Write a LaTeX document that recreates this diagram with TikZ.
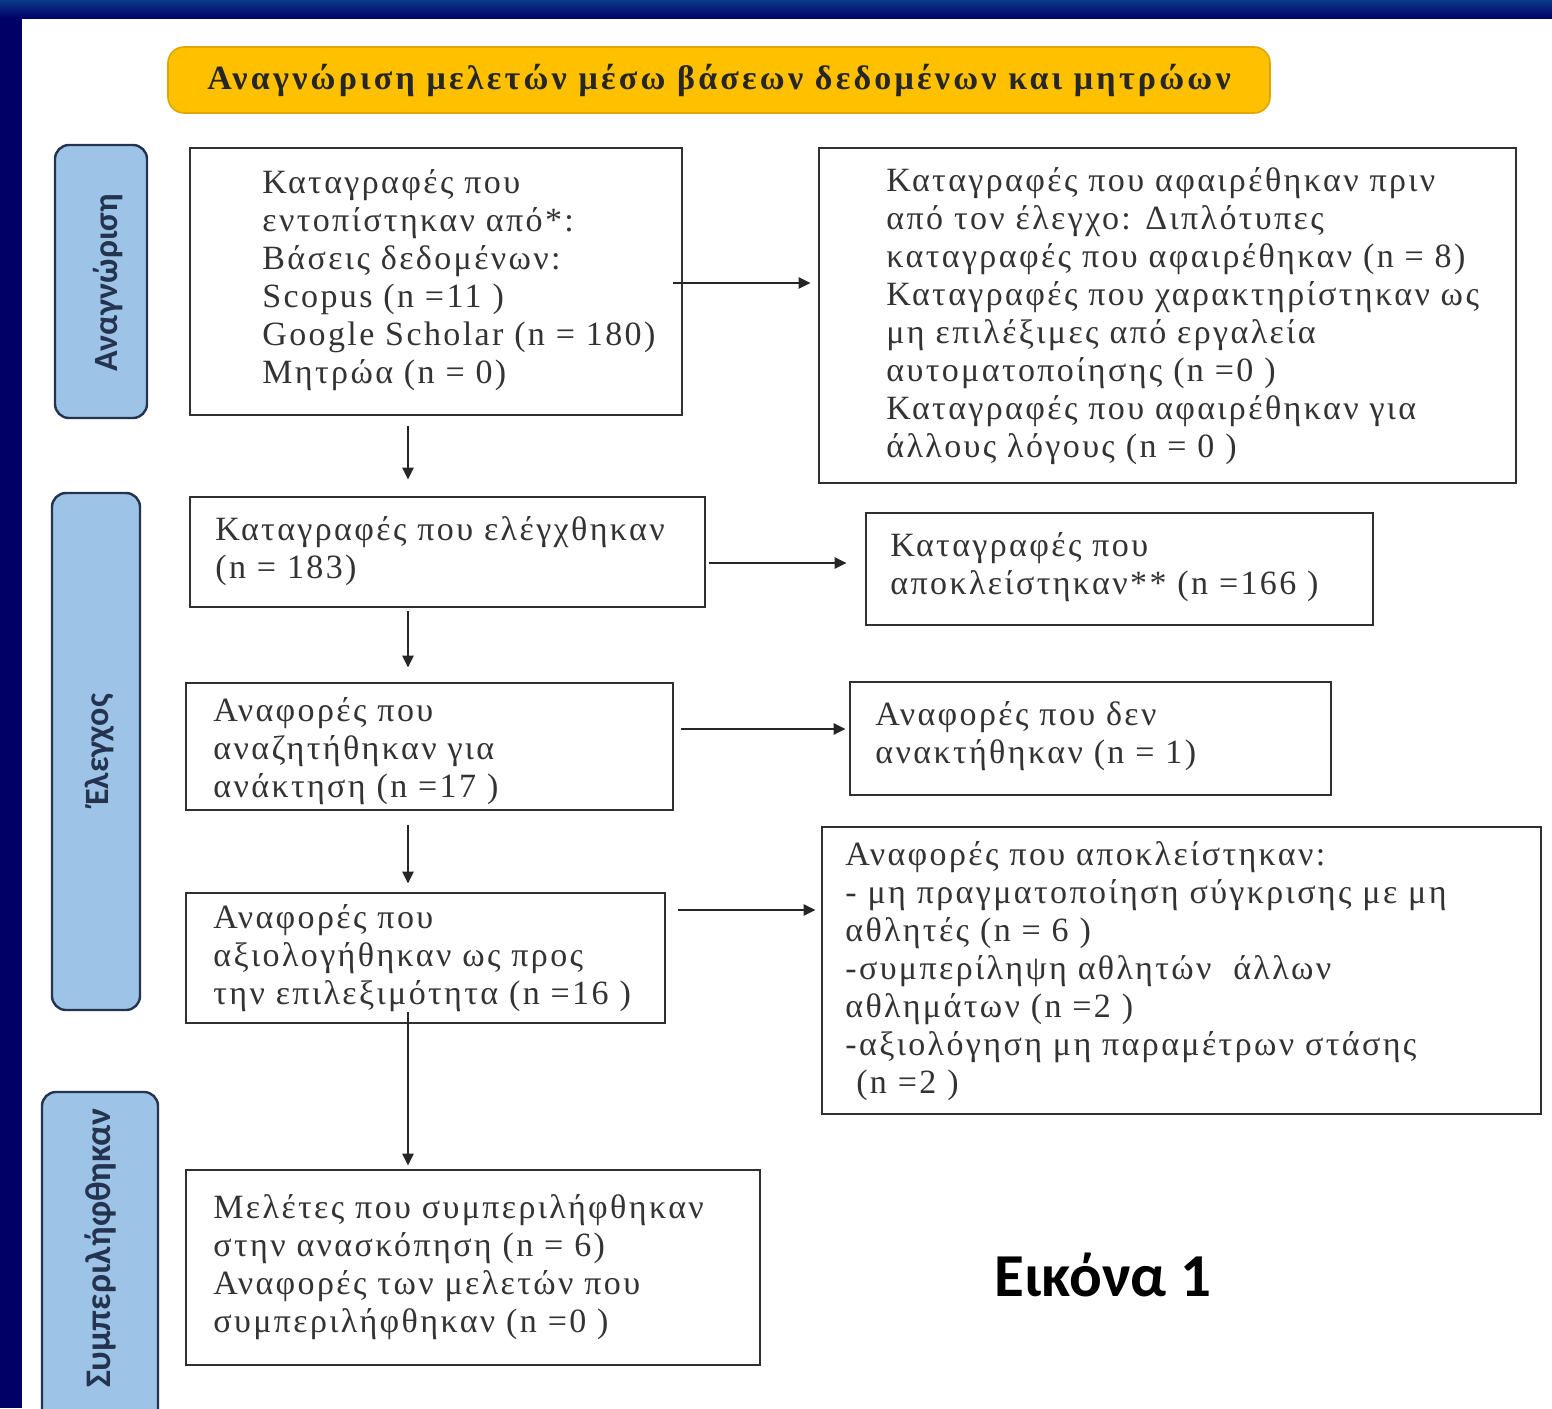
\documentclass[tikz,border=0pt]{standalone}
\usepackage{fontspec}
\setmainfont{Liberation Serif}
\newfontfamily\calib{Carlito}
\newfontfamily\widetxt[LetterSpace=7]{Liberation Serif}
\newfontfamily\widetitle[LetterSpace=9.5]{Liberation Serif}
\usetikzlibrary{arrows.meta}
\definecolor{navy}{HTML}{000066}
\definecolor{navytop}{HTML}{0B3A8C}
\definecolor{lblue}{HTML}{9DC3E6}
\definecolor{lbord}{HTML}{243350}
\definecolor{gold}{HTML}{FFC000}
\definecolor{goldline}{HTML}{E3A500}
\definecolor{boxline}{HTML}{303030}
\definecolor{txtc}{HTML}{333333}
\tikzset{
 boxst/.style={draw=boxline, line width=1.4pt, fill=white, inner sep=0pt},
 side/.style={draw=lbord, fill=lblue, line width=1.2pt, rounded corners=7pt, inner sep=0pt},
 txt/.style={anchor=north west, inner sep=0pt, align=left, text=txtc, font=\widetxt\fontsize{17pt}{19pt}\selectfont},
 arr/.style={draw=black!85, line width=1.2pt, -{Triangle[length=6pt,width=5.5pt]}},
 sidetxt/.style={rotate=90, font=\calib\bfseries\fontsize{17pt}{20pt}\selectfont, text=lbord},
 titlest/.style={draw=goldline, fill=gold, line width=0.8pt, rounded corners=8pt, inner sep=0pt,
   font=\widetitle\bfseries\fontsize{17pt}{19pt}\selectfont, text=black!85}
}
\newcommand\pbox[6][boxst]{\node[#1, minimum width={(#5-#3)*0.5pt}, minimum height={(#6-#4)*0.5pt}] (#2) at ({(#3+#5)/2},{(#4+#6)/2}) {};}
\begin{document}
\begin{tikzpicture}[x=0.5pt,y=-0.5pt]
\clip (0,0) rectangle (1552,1408);
\fill[white] (0,0) rectangle (1552,1408);
\fill[navy] (0,0) rectangle (22,1408);
\shade[top color=navytop, bottom color=navy] (0,0) rectangle (1552,18);

% title
\node[titlest, minimum width={(1272-170)*0.5pt}, minimum height={(113-47)*0.5pt}] (title) at (719,80)
  {Αναγνώριση μελετών μέσω βάσεων δεδομένων και μητρώων};

% side labels
\pbox[side]{s1}{55}{145}{147}{418}
\pbox[side]{s2}{52}{493}{140}{1010}
\pbox[side]{s3}{42}{1092}{158}{1430}
\node[sidetxt] (s1t) at (108,283) {Αναγνώριση};
\node[sidetxt] (s2t) at (100,750) {Έλεγχος};
\node[sidetxt, font=\calib\bfseries\fontsize{18pt}{20pt}\selectfont] (s3t) at (100,1248) {Συμπεριλήφθηκαν};

% boxes
\pbox{A}{190}{148}{682}{415}
\pbox{B}{819}{148}{1516}{483}
\pbox{C}{190}{497}{705}{607}
\pbox{D}{866}{513}{1373}{625}
\pbox{E}{186}{683}{673}{810}
\pbox{F}{850}{682}{1331}{795}
\pbox{G}{186}{893}{665}{1023}
\pbox{H}{822}{827}{1541}{1114}
\pbox{I}{186}{1170}{760}{1365}

% texts
\node[txt] (tA) at (262,166) {\strut Καταγραφές που\\εντοπίστηκαν από*:\\Βάσεις δεδομένων:\\Scopus (n =11 )\\Google Scholar (n = 180)\\Μητρώα (n = 0)};
\node[txt] (tB) at (886,164) {\strut Καταγραφές που αφαιρέθηκαν πριν\\από τον έλεγχο: Διπλότυπες\\καταγραφές που αφαιρέθηκαν (n = 8)\\Καταγραφές που χαρακτηρίστηκαν ως\\μη επιλέξιμες από εργαλεία\\αυτοματοποίησης (n =0 )\\Καταγραφές που αφαιρέθηκαν για\\άλλους λόγους (n = 0 )};
\node[txt] (tC) at (215,513) {\strut Καταγραφές που ελέγχθηκαν\\(n = 183)};
\node[txt] (tD) at (890,529) {\strut Καταγραφές που\\αποκλείστηκαν** (n =166 )};
\node[txt] (tE) at (213,694) {\strut Αναφορές που\\αναζητήθηκαν για\\ανάκτηση (n =17 )};
\node[txt] (tF) at (875,698) {\strut Αναφορές που δεν\\ανακτήθηκαν (n = 1)};
\node[txt] (tG) at (213,901) {\strut Αναφορές που\\αξιολογήθηκαν ως προς\\την επιλεξιμότητα (n =16 )};
\node[txt] (tH) at (845,838) {\strut Αναφορές που αποκλείστηκαν:\\- μη πραγματοποίηση σύγκρισης με μη\\αθλητές (n = 6 )\\-συμπερίληψη αθλητών \ άλλων\\αθλημάτων (n =2 )\\-αξιολόγηση μη παραμέτρων στάσης\\\ (n =2 )};
\node[txt] (tI) at (213,1191) {\strut Μελέτες που συμπεριλήφθηκαν\\στην ανασκόπηση (n = 6)\\Αναφορές των μελετών που\\συμπεριλήφθηκαν (n =0 )};

\node[font=\calib\bfseries\fontsize{30.5pt}{34pt}\selectfont] (fig) at (1103,1275) {Εικόνα 1};

% connector guides
\coordinate (vx) at (408,0);
\coordinate (yab) at (0,283);
\coordinate (ycd) at (0,563);
\coordinate (yef) at (0,729);
\coordinate (ygh) at (0,910);

\draw[arr, shorten <=-5pt, shorten >=3.5pt] (A.east |- yab) -- (B.west |- yab);
\draw[arr, shorten <=1.5pt, shorten >=9pt] (C.east |- ycd) -- (D.west |- ycd);
\draw[arr, shorten <=3.5pt, shorten >=1.5pt] (E.east |- yef) -- (F.west |- yef);
\draw[arr, shorten <=6pt, shorten >=2.5pt] (G.east |- ygh) -- (H.west |- ygh);

\draw[arr, shorten <=5pt, shorten >=8pt] (A.south -| vx) -- (C.north -| vx);
\draw[arr, shorten <=1.5pt, shorten >=7pt] (C.south -| vx) -- (E.north -| vx);
\draw[arr, shorten <=7pt, shorten >=4pt] (E.south -| vx) -- (G.north -| vx);
\draw[arr, shorten <=-6pt, shorten >=1.5pt] (G.south -| vx) -- (I.north -| vx);
\end{tikzpicture}
\end{document}
